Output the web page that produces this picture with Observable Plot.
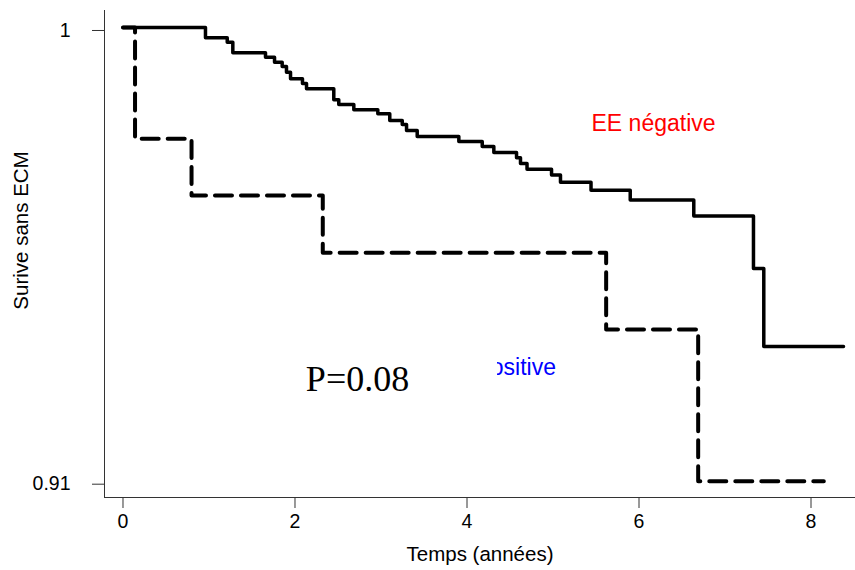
<!DOCTYPE html>
<html><head><meta charset="utf-8">
<script src="https://cdn.jsdelivr.net/npm/d3@7"></script>
<script src="https://cdn.jsdelivr.net/npm/@observablehq/plot@0.6"></script>
<style>body{margin:0;background:#fff}</style>
</head><body><div id="chart"></div>
<script>
// EE négative (solid) Kaplan–Meier steps
const negTime = [0, 0.959, 1.212, 1.277, 1.657, 1.762, 1.851, 1.901, 1.948, 2.087, 2.134, 2.451, 2.509, 2.684, 2.963, 3.102, 3.247, 3.297, 3.421, 3.905, 4.177, 4.312, 4.576, 4.622, 4.698, 4.983, 5.087, 5.442, 5.898, 6.637, 7.331, 7.451, 8.378];
const negSurv = [1, 0.99796, 0.99708, 0.99498, 0.99411, 0.99312, 0.99226, 0.99113, 0.98982, 0.98889, 0.98784, 0.98566, 0.98472, 0.98367, 0.98288, 0.98155, 0.98076, 0.97957, 0.97838, 0.97739, 0.97639, 0.97520, 0.97415, 0.97302, 0.97189, 0.97074, 0.96930, 0.96772, 0.96578, 0.96261, 0.95219, 0.93672, 0.93672];
// EE positive (dashed)
const posTime = [0, 0.14, 0.797, 2.323, 5.618, 6.688, 8.149];
const posSurv = [1, 0.97792, 0.96667, 0.95530, 0.94009, 0.91, 0.91];

const xTicks = [0, 2, 4, 6, 8];
const yTicks = [0.91, 1];
const yTickLabels = ["0.91", "1"];
const groups = ["EE négative", "EE positive"];
const pValue = "P=0.08";
const xTitle = "Temps (années)";
const yTitle = "Surive sans ECM";

const neg = negTime.map((t, i) => ({t, s: negSurv[i]}));
const pos = posTime.map((t, i) => ({t, s: posSurv[i]}));

// annotation anchors (data space)
const annot = {
  neg: {x: 6.169, y: 0.97937},
  pos: {x: 4.366, y: 0.93097},
  p: {x: 2.727, y: 0.92799},
  box: {x1: 1.099, x2: 4.355, y1: 0.92402, y2: 0.93791}
};
const xDom = [-0.2151, 8.5174];
const yDom = [0.906766, 1.003372];

const chart = Plot.plot({
  width: 855, height: 570,
  marginLeft: 104, marginRight: 0, marginTop: 10, marginBottom: 73,
  x: {domain: xDom},
  y: {domain: yDom},
  style: {fontFamily: "'Liberation Sans', Arial, sans-serif", background: "#fff", color: "#000"},
  marks: [
    Plot.ruleX([xDom[0]], {stroke: "#333"}),
    Plot.ruleY([yDom[0]], {stroke: "#333"}),
    Plot.axisX(xTicks, {tickSize: 11, tickPadding: 6, fontSize: 19.5, label: null, stroke: "#333"}),
    Plot.axisY(yTicks, {tickSize: 12, tickPadding: 22, fontSize: 19.5, label: null, dy: 3,
      tickFormat: d => yTickLabels[yTicks.indexOf(d)], stroke: "#333"}),
    Plot.line(neg, {x: "t", y: "s", curve: "step-after", stroke: "#000", strokeWidth: 3.5}),
    Plot.line(pos, {x: "t", y: "s", curve: "step-after", stroke: "#000", strokeWidth: 4, strokeDasharray: "17,9"}),
    Plot.text([groups[0]], {x: () => annot.neg.x, y: () => annot.neg.y, fill: "#ff0000", fontSize: 23, lineAnchor: "bottom", textAnchor: "middle"}),
    Plot.text([groups[1]], {x: () => annot.pos.x, y: () => annot.pos.y, fill: "#0000ff", fontSize: 23, lineAnchor: "bottom", textAnchor: "middle"}),
    Plot.rect([annot.box], {x1: "x1", x2: "x2", y1: "y1", y2: "y2", fill: "#fff"}),
    Plot.text([pValue], {x: () => annot.p.x, y: () => annot.p.y, fontFamily: "'Liberation Serif', 'Times New Roman', serif", fontSize: 36, lineAnchor: "bottom", textAnchor: "middle", fill: "#000"}),
    Plot.text([xTitle], {frameAnchor: "bottom", dy: 63, lineAnchor: "bottom", textAnchor: "middle", fontSize: 20.5, fill: "#000"}),
    Plot.text([yTitle], {frameAnchor: "left", rotate: -90, dx: -77, dy: -23.5, lineAnchor: "bottom", textAnchor: "middle", fontSize: 20.5, fill: "#000"})
  ]
});
document.getElementById("chart").appendChild(chart);
</script>
</body></html>
